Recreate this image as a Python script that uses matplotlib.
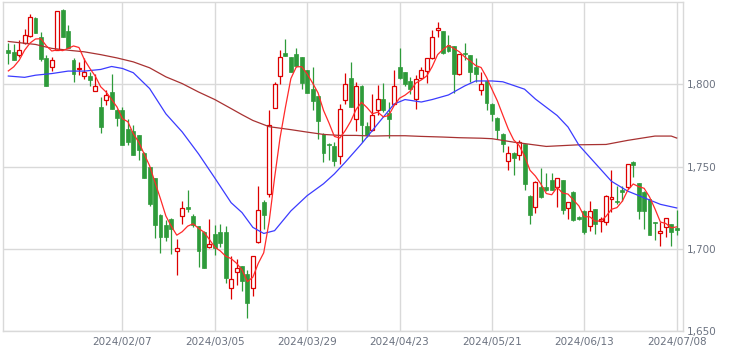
import numpy as np
import pandas as pd
import matplotlib
matplotlib.use("Agg")
import matplotlib.pyplot as plt

# ---- data ----
opens = [1820.7, 1819.7, 1818.0, 1825.0, 1829.3, 1840.5, 1828.5, 1815.7, 1810.2, 1821.0,
         1845.1, 1832.3, 1814.6, 1809.3, 1805.3, 1804.9, 1796.2, 1786.2, 1790.7, 1795.1,
         1784.1, 1784.6, 1773.0, 1771.5, 1768.9, 1758.5, 1749.6, 1743.1, 1720.7, 1714.4,
         1718.3, 1698.6, 1720.0, 1725.2, 1720.1, 1713.8, 1710.2, 1700.8, 1708.9, 1710.2,
         1710.2, 1676.4, 1686.0, 1689.6, 1684.6, 1676.0, 1703.9, 1728.7, 1733.4, 1785.8,
         1804.9, 1819.3, 1816.3, 1818.2, 1816.3, 1808.5, 1797.4, 1792.7, 1769.9, 1763.4,
         1762.2, 1756.3, 1790.2, 1803.5, 1779.1, 1799.2, 1774.4, 1772.4, 1784.6, 1790.9,
         1782.6, 1788.2, 1810.2, 1807.2, 1801.8, 1791.3, 1804.1, 1808.0, 1815.7, 1832.9,
         1832.3, 1823.8, 1823.2, 1806.1, 1819.3, 1817.7, 1810.6, 1796.8, 1802.0, 1788.2,
         1779.5, 1769.9, 1753.3, 1758.4, 1756.7, 1763.4, 1732.3, 1725.6, 1737.4, 1737.8,
         1741.9, 1737.8, 1741.5, 1724.8, 1734.3, 1719.5, 1723.2, 1714.0, 1724.2, 1717.1,
         1716.0, 1730.1, 1729.3, 1736.0, 1737.4, 1753.0, 1739.9, 1734.8, 1730.3, 1716.0,
         1709.8, 1713.0, 1715.1, 1712.6]
highs = [1824.8, 1824.2, 1827.2, 1833.4, 1842.7, 1841.0, 1831.5, 1817.7, 1816.3, 1844.3,
         1845.5, 1836.0, 1815.7, 1813.6, 1815.7, 1807.5, 1806.1, 1792.3, 1796.3, 1806.1,
         1785.2, 1786.2, 1779.1, 1775.0, 1769.2, 1758.8, 1749.8, 1743.3, 1721.0, 1717.5,
         1718.5, 1705.9, 1728.9, 1735.8, 1721.2, 1714.0, 1710.5, 1718.1, 1714.6, 1715.0,
         1714.0, 1695.7, 1693.7, 1689.8, 1687.0, 1695.7, 1738.4, 1729.7, 1784.6, 1801.4,
         1820.7, 1827.3, 1816.5, 1821.8, 1816.5, 1808.7, 1810.6, 1793.0, 1770.2, 1764.2,
         1764.9, 1787.8, 1807.1, 1813.6, 1801.4, 1799.5, 1777.0, 1794.3, 1799.4, 1800.8,
         1789.3, 1808.5, 1821.8, 1807.5, 1804.5, 1805.5, 1810.6, 1816.0, 1832.9, 1838.0,
         1832.6, 1830.0, 1823.5, 1818.5, 1824.8, 1818.0, 1815.7, 1807.5, 1802.3, 1788.5,
         1779.8, 1770.2, 1762.2, 1758.7, 1766.3, 1763.7, 1732.6, 1740.9, 1749.2, 1746.0,
         1746.0, 1743.1, 1741.7, 1728.5, 1735.4, 1720.0, 1723.4, 1729.3, 1724.4, 1719.5,
         1732.5, 1748.0, 1738.4, 1738.4, 1751.8, 1753.2, 1740.1, 1735.0, 1730.5, 1716.2,
         1716.0, 1718.9, 1715.3, 1723.6]
lows = [1812.6, 1814.6, 1816.7, 1824.2, 1828.5, 1831.0, 1814.0, 1799.0, 1808.1, 1820.7,
        1828.5, 1821.8, 1801.4, 1805.5, 1802.9, 1798.8, 1795.9, 1770.4, 1787.2, 1784.9,
        1774.4, 1763.0, 1762.8, 1757.0, 1754.1, 1742.8, 1726.0, 1706.5, 1697.7, 1704.9,
        1697.1, 1684.0, 1715.0, 1722.2, 1713.0, 1689.0, 1688.3, 1700.5, 1696.3, 1700.8,
        1678.9, 1669.7, 1677.9, 1674.5, 1657.6, 1671.3, 1703.3, 1712.0, 1731.3, 1785.3,
        1800.0, 1817.0, 1807.2, 1810.6, 1797.4, 1794.5, 1784.1, 1766.9, 1752.6, 1753.7,
        1750.6, 1751.6, 1788.2, 1786.0, 1771.5, 1764.9, 1767.9, 1771.5, 1781.1, 1783.2,
        1767.5, 1788.0, 1803.3, 1798.8, 1794.3, 1785.2, 1802.9, 1801.0, 1815.5, 1828.5,
        1818.5, 1819.5, 1794.7, 1805.9, 1814.6, 1801.4, 1801.4, 1793.3, 1784.6, 1777.6,
        1766.9, 1759.1, 1748.0, 1745.1, 1754.1, 1735.8, 1715.1, 1721.6, 1731.0, 1735.4,
        1735.5, 1725.6, 1721.2, 1718.1, 1717.1, 1717.5, 1709.1, 1711.0, 1709.0, 1710.0,
        1714.4, 1722.1, 1727.3, 1728.9, 1736.4, 1743.5, 1718.1, 1712.0, 1708.3, 1705.3,
        1701.8, 1706.9, 1701.8, 1708.5]
closes = [1819.0, 1814.6, 1821.0, 1830.0, 1840.7, 1831.3, 1815.5, 1799.0, 1814.5, 1844.3,
          1828.9, 1822.2, 1806.5, 1809.8, 1807.3, 1802.4, 1798.8, 1774.0, 1793.7, 1784.9,
          1779.5, 1763.0, 1764.9, 1757.1, 1759.8, 1743.1, 1727.3, 1714.3, 1707.3, 1707.3,
          1712.0, 1700.4, 1724.8, 1724.2, 1714.4, 1698.4, 1688.6, 1702.8, 1700.4, 1703.3,
          1682.1, 1681.5, 1688.6, 1680.5, 1667.3, 1695.7, 1723.6, 1720.6, 1775.4, 1800.4,
          1816.7, 1817.3, 1807.5, 1811.0, 1800.8, 1794.7, 1789.6, 1777.6, 1758.1, 1762.8,
          1753.3, 1784.8, 1800.0, 1786.2, 1799.0, 1775.0, 1768.9, 1781.1, 1791.3, 1784.6,
          1779.1, 1799.2, 1803.5, 1800.4, 1797.4, 1803.3, 1808.5, 1815.7, 1828.5, 1834.0,
          1819.3, 1820.5, 1806.5, 1818.3, 1818.2, 1807.5, 1806.5, 1800.4, 1788.7, 1781.7,
          1772.0, 1763.4, 1758.4, 1755.3, 1764.9, 1739.5, 1720.5, 1740.7, 1731.3, 1735.8,
          1735.8, 1742.9, 1723.4, 1728.3, 1717.5, 1718.1, 1710.0, 1723.2, 1715.1, 1718.1,
          1732.3, 1731.3, 1728.2, 1734.8, 1751.6, 1751.0, 1723.2, 1723.2, 1708.5, 1715.4,
          1711.0, 1718.7, 1710.0, 1711.4]

# short moving average: first values (need earlier history)
ma5_head = [1808.1, 1810.6, 1814.6, 1820.7]

# 25-day MA (blue), read at sample candles
ma25_idx = [0, 3, 5, 8, 11, 14, 17, 19, 21, 23, 26, 29, 32, 35, 38, 41, 43, 45, 47, 49,
            52, 55, 58, 60, 62, 65, 68, 71, 73, 76, 78, 81, 84, 86, 89, 91, 95, 97, 101,
            103, 105, 108, 111, 114, 117, 120, 123]
ma25_val = [1805.0, 1804.2, 1805.5, 1806.5, 1808.0, 1808.0, 1809.0, 1810.8, 1809.6, 1807.0,
            1797.4, 1782.0, 1771.0, 1757.7, 1743.0, 1728.0, 1722.0, 1713.0, 1709.3, 1711.0,
            1723.0, 1732.3, 1739.5, 1745.5, 1752.6, 1763.8, 1776.0, 1788.0, 1790.7, 1789.2,
            1790.7, 1793.5, 1799.0, 1802.0, 1802.0, 1801.5, 1797.0, 1791.0, 1781.0, 1774.0,
            1763.0, 1752.0, 1741.0, 1735.0, 1731.0, 1727.0, 1724.8]

# 75-day MA (dark red), read at sample candles
ma75_idx = [0, 5, 8, 11, 14, 17, 20, 23, 26, 29, 32, 35, 38, 41, 43, 45, 48, 52, 55, 58,
            61, 64, 67, 70, 73, 76, 80, 83, 87, 89, 93, 99, 105, 110, 114, 119, 122, 123]
ma75_val = [1826.0, 1824.2, 1821.8, 1820.7, 1819.7, 1818.0, 1816.0, 1813.6, 1810.0, 1804.5,
            1800.4, 1795.3, 1790.7, 1785.2, 1781.5, 1778.0, 1774.2, 1772.4, 1770.9, 1769.5,
            1768.9, 1768.9, 1768.5, 1768.7, 1768.7, 1768.3, 1767.9, 1767.5, 1767.2, 1766.9,
            1764.8, 1762.2, 1763.2, 1763.4, 1765.9, 1768.5, 1768.5, 1767.3]

tick_idx = [21, 38, 55, 72, 89, 106, 123]
tick_labels = ["2024/02/07", "2024/03/05", "2024/03/29", "2024/04/23",
               "2024/05/21", "2024/06/13", "2024/07/08"]
ytick_vals = [1650, 1700, 1750, 1800]

# ---- plotting ----
o = np.array(opens); h = np.array(highs); l = np.array(lows); c = np.array(closes)
x = np.arange(len(c))
up = c >= o

ma5 = pd.Series(c).rolling(5).mean().to_numpy()
ma5[:len(ma5_head)] = ma5_head

fig = plt.figure(figsize=(7.29, 3.53), dpi=100)
ax = fig.add_axes([3 / 729, 1 - 331 / 353, 680 / 729, 329 / 353])

GREEN = "#2e9b3a"
RED = "#dd0000"
grid_c = "#d9d9d9"

ax.set_xlim(-0.98, 124.16)
ax.set_ylim(1650, 1850)

ax.set_xticks(tick_idx)
ax.set_xticklabels(tick_labels)
ax.set_yticks(ytick_vals)
ax.set_yticklabels([f"{v:,}" for v in ytick_vals])
ax.yaxis.tick_right()
ax.tick_params(axis="both", length=0, labelsize=7.5, colors="#6b7280")
ax.tick_params(axis="x", pad=4)
ax.tick_params(axis="y", pad=3)
ax.grid(True, color=grid_c, linewidth=1.0)
ax.set_axisbelow(True)
for s in ax.spines.values():
    s.set_color(grid_c)
    s.set_linewidth(1.0)

# wicks
ax.vlines(x[~up], l[~up], h[~up], color=GREEN, linewidth=0.9, zorder=2)
ax.vlines(x[up], l[up], h[up], color=RED, linewidth=0.9, zorder=2)

# bodies
bw = 0.72
ax.bar(x[~up], (o - c)[~up], bottom=c[~up], width=bw, color=GREEN,
       edgecolor=GREEN, linewidth=0.5, zorder=3)
ax.bar(x[up], np.maximum((c - o)[up], 0.6), bottom=o[up], width=bw, color="white",
       edgecolor=RED, linewidth=0.9, zorder=3)

# moving averages
ax.plot(ma75_idx, ma75_val, color="#a83232", linewidth=0.9, zorder=4)
ax.plot(ma25_idx, ma25_val, color="#3b3bff", linewidth=0.9, zorder=4)
ax.plot(x, ma5, color="#ff2a2a", linewidth=0.9, zorder=5)

fig.savefig("out.png", dpi=100)
